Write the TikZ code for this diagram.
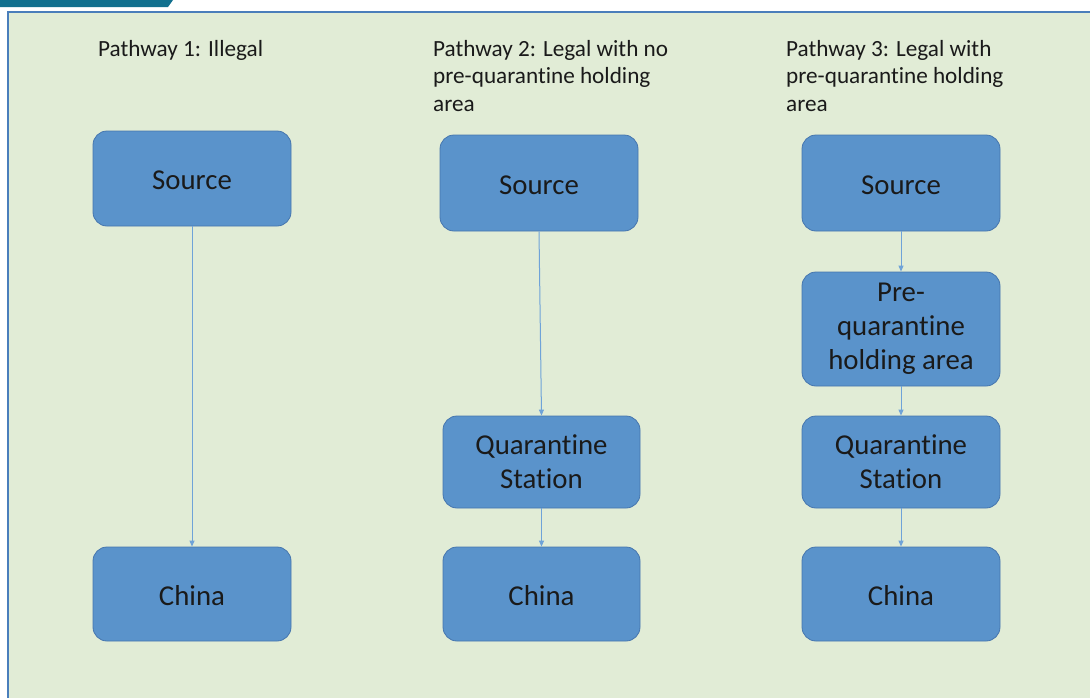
\documentclass[tikz,border=0pt]{standalone}
\usepackage{fontspec}
\setmainfont{Carlito}[Ligatures=NoCommon]
\usetikzlibrary{arrows.meta}
\definecolor{panelgreen}{HTML}{E1ECD6}
\definecolor{panelborder}{HTML}{4A7EBB}
\definecolor{boxfill}{HTML}{5A93CB}
\definecolor{boxedge}{HTML}{4676AE}
\definecolor{linkblue}{HTML}{6FA3D8}
\definecolor{tabteal}{HTML}{12708E}
\definecolor{inktext}{HTML}{1A1A1A}
\begin{document}
\begin{tikzpicture}[x=1pt,y=-1pt,
  flowbox/.style={draw=boxedge, line width=0.8pt, fill=boxfill, rounded corners=14pt,
    minimum width=198pt, minimum height=95pt, inner sep=0pt, align=center,
    text=inktext, font=\fontsize{28.8}{34}\selectfont},
  oneline/.style={text height=22pt, text depth=0pt},
  heading/.style={anchor=north west, align=left, inner sep=0pt, text=inktext,
    font=\fontsize{23.2}{27.6}\selectfont},
  link/.style={draw=linkblue, line width=1pt, -{Triangle[length=6pt,width=5pt]}}]
\useasboundingbox (0,0) rectangle (1090,697);
\fill[white] (0,0) rectangle (1090,697);
% title tab and panel
\fill[tabteal] (0,0) -- (173,0) -- (168,7) -- (0,7) -- cycle;
\draw[panelborder, line width=1.5pt, fill=panelgreen] (8,710) -- (8,12) -- (1100,12) -- (1100,710);
% column headings
\node[heading] (h1) at (98,40) {Pathway 1: Illegal};
\node[heading] (h2) at (433,40) {Pathway 2: Legal with no\\pre-quarantine holding\\area};
\node[heading] (h3) at (786,40) {Pathway 3: Legal with\\pre-quarantine holding\\area};
% pathway 1
\node[flowbox, oneline] (s1) at (192,178.5) {Source};
\node[flowbox, oneline, minimum height=94pt] (c1) at (192,594) {China};
% pathway 2
\node[flowbox, oneline, minimum height=96pt] (s2) at (539,183) {Source};
\node[flowbox, minimum width=197pt, minimum height=92pt] (q2) at (541.5,462) {Quarantine\\Station};
\node[flowbox, oneline, minimum width=197pt, minimum height=94pt] (c2) at (541.5,594) {China};
% pathway 3
\node[flowbox, oneline, minimum height=96pt] (s3) at (901,183) {Source};
\node[flowbox, minimum height=114pt] (p3) at (901,329) {Pre-\\quarantine\\holding area};
\node[flowbox, minimum height=92pt] (q3) at (901,462) {Quarantine\\Station};
\node[flowbox, oneline, minimum height=94pt] (c3) at (901,594) {China};
% connectors
\draw[link] (s1.south) -- (c1.north);
\draw[link] (s2.south) -- (q2.north);
\draw[link] (q2.south) -- (c2.north);
\draw[link] (s3.south) -- (p3.north);
\draw[link] (p3.south) -- (q3.north);
\draw[link] (q3.south) -- (c3.north);
\end{tikzpicture}
\end{document}
